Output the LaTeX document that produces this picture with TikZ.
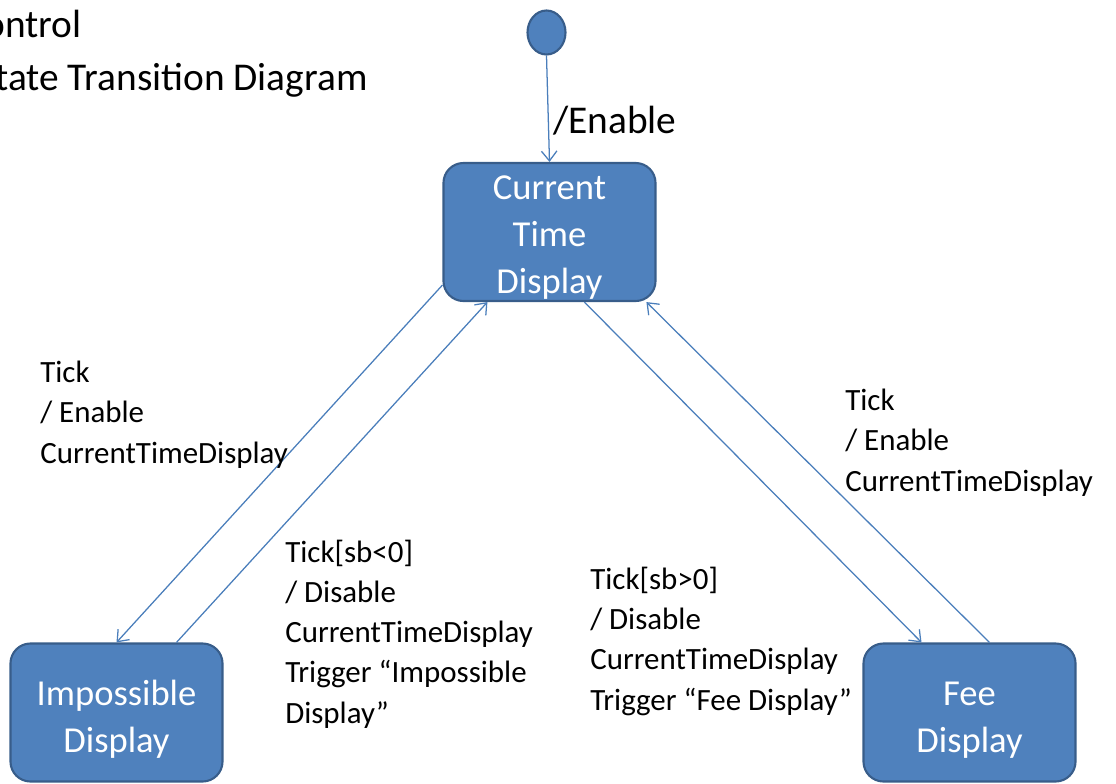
\documentclass[tikz,border=0pt]{standalone}
\usepackage{fontspec}
\setmainfont{Carlito}
\usetikzlibrary{arrows.meta,calc,positioning,shapes.geometric}

\definecolor{stateblue}{RGB}{79,129,189}
\definecolor{stateedge}{RGB}{56,93,138}
\definecolor{linkblue}{RGB}{74,126,187}

\tikzset{
  state/.style={draw=stateedge, line width=1.5pt, fill=stateblue, rounded corners=0.5cm,
    minimum width=5.3cm, minimum height=3.45cm, text=white, align=center, inner sep=0pt,
    text depth=5pt, font=\fontsize{26}{33.4}\selectfont},
  trans/.style={draw=linkblue, line width=0.9pt, -{Straight Barb[length=7pt,width=11pt]}},
  guard/.style={align=left, anchor=base west, inner sep=0pt, font=\fontsize{22}{28.5}\selectfont},
}

\begin{document}
\begin{tikzpicture}[x=0.025cm,y=-0.025cm]
\path[use as bounding box, clip] (0,0) rectangle (1116,783);
% title, cut at the left edge
\node[anchor=base east, inner sep=0pt, font=\fontsize{28}{37}\selectfont] (titleA) at (82,37) {Control};
\node[anchor=base east, inner sep=0pt, font=\fontsize{28}{37}\selectfont] (titleB) at (368,90) {State Transition Diagram};
% states
\node[ellipse, draw=stateedge, line width=1.5pt, fill=stateblue, minimum width=0.95cm, minimum height=1.1cm, inner sep=0pt] (init) at (546.5,32.5) {};
\node[state, text height=91.8pt] (ctd) at (549.5,232) {Current\\Time\\Display};
\node[state, text height=61.2pt] (imp) at (116.5,712.5) {Impossible\\Display};
\node[state, text height=61.2pt] (fee) at (969.5,712.5) {Fee\\Display};
% transitions
\draw[trans] (init.south) -- (ctd.north);
\node[anchor=base west, inner sep=0pt, font=\fontsize{28}{37}\selectfont] (enable) at (553,133) {/Enable};
\draw[trans] ($(ctd.south west)+(0,-17)$) -- (imp.north);
\draw[trans] ($(imp.north)+(60,0)$) -- ($(ctd.south west)+(45,0)$);
\draw[trans] ($(ctd.south west)+(142,0)$) -- ($(fee.north)+(-48,0)$);
\draw[trans] ($(fee.north)+(20,0)$) -- ($(ctd.south west)+(204,0)$);
% labels (base = last line)
\node[guard] (tickleft) at (40,463) {Tick\\/ Enable\\CurrentTimeDisplay};
\node[guard] (tickright) at (845,491) {Tick\\/ Enable\\CurrentTimeDisplay};
\node[guard] (guardneg) at (285,723) {Tick[sb<0]\\/ Disable\\CurrentTimeDisplay\\Trigger “Impossible\\Display”};
\node[guard] (guardpos) at (590,710) {Tick[sb>0]\\/ Disable\\CurrentTimeDisplay\\Trigger “Fee Display”};
\end{tikzpicture}
\end{document}
